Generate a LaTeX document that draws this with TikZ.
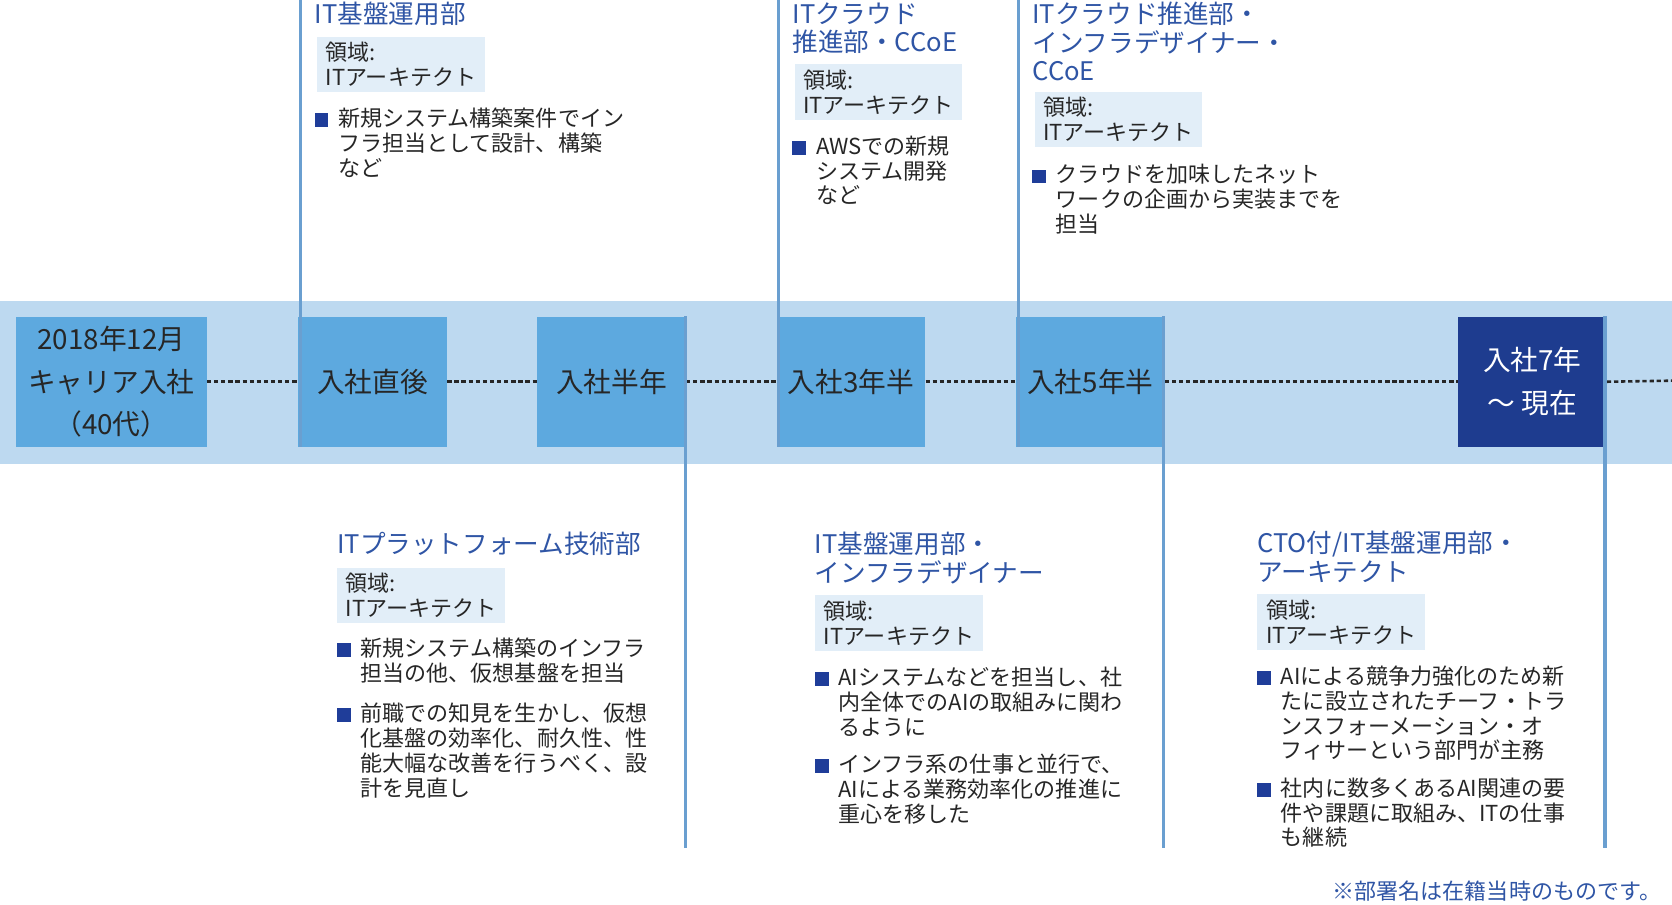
\documentclass[tikz,border=0pt]{standalone}
\usepackage{fontspec}
\setmainfont{Noto Sans CJK JP}
\definecolor{band}{HTML}{BDD9F0}
\definecolor{boxc}{HTML}{5DA9DF}
\definecolor{dark}{HTML}{1E3C8F}
\definecolor{vline}{HTML}{6A9FD0}
\definecolor{ttl}{HTML}{2F55A5}
\definecolor{lab}{HTML}{E2EEF8}
\definecolor{sq}{HTML}{1F3D99}
\begin{document}
\begin{tikzpicture}[x=0.75pt,y=-0.75pt,
 box/.style={fill=boxc,minimum height=91.5pt,minimum width=104.5pt,inner sep=0pt,font=\fontsize{19.5pt}{30pt}\selectfont,text=black!85,align=center},
 dsh/.style={densely dashed,line width=1.8pt,black!85},
 vl/.style={vline,line width=2.5pt},
 ttl/.style={anchor=north west,inner sep=0pt,align=left,text=ttl,font=\fontsize{18pt}{20pt}\selectfont},
 lab/.style={anchor=north west,fill=lab,inner sep=2pt,minimum width=118pt,minimum height=39pt,align=left,text=black!85,font=\fontsize{15.5pt}{17.5pt}\selectfont},
 bul/.style={anchor=north west,inner sep=0pt,align=left,text=black!85,font=\fontsize{15.5pt}{17.5pt}\selectfont},
 sqs/.style={fill=sq}]
\useasboundingbox (0,0) rectangle (1568,848);
\fill[band] (0,282) rectangle (1568,435);
\node[box,minimum width=134pt] (b1) at (104.5,358) {2018年12月\\キャリア入社\\（40代）};
\node[box] (b2) at (349.5,358) {入社直後};
\node[box] (b3) at (573.5,358) {入社半年};
\node[box] (b4) at (798,358) {入社3年半};
\node[box] (b5) at (1022.5,358) {入社5年半};
\node[box,fill=dark,text=white] (b6) at (1437,358) {入社7年\\～ 現在};
\coordinate (e) at (1568,357);
\draw[dsh] (b1.east) -- (b2.west);
\draw[dsh] (b2.east) -- (b3.west);
\draw[dsh] (b3.east) -- (b4.west);
\draw[dsh] (b4.east) -- (b5.west);
\draw[dsh] (b5.east) -- (b6.west);
\draw[dsh] (b6.east) -- (e);
\coordinate (t2) at (282,0); \coordinate (t4) at (730,0); \coordinate (t5) at (955,0);
\coordinate (d3) at (643,795); \coordinate (d5) at (1091,795); \coordinate (d6) at (1505,795);
\draw[vl] (t2) -- (t2|-b2.south);
\draw[vl] (t4) -- (t4|-b4.south);
\draw[vl] (t5) -- (t5|-b5.south);
\draw[vl] (d3|-b3.north) -- (d3);
\draw[vl] (d5|-b5.north) -- (d5);
\draw[vl] (d6|-b6.north) -- (d6);
% group 1
\node[ttl] (g1t) at (295,2) {IT基盤運用部};
\node[lab] (g1l) at (297,34) {領域:\\ITアーキテクト};
\fill[sqs] (295,106) rectangle (308,119);
\node[bul] (g1a) at (317,101) {新規システム構築案件でイン\\フラ担当として設計、構築\\など};
% group 2
\node[ttl] (g2t) at (743,2) {ITクラウド\\推進部・CCoE};
\node[lab] (g2l) at (745,60) {領域:\\ITアーキテクト};
\fill[sqs] (743,132) rectangle (756,145);
\node[bul] (g2a) at (765,127) {AWSでの新規\\システム開発\\など};
% group 3
\node[ttl] (g3t) at (968,2) {ITクラウド推進部・\\インフラデザイナー・\\CCoE};
\node[lab] (g3l) at (970,86) {領域:\\ITアーキテクト};
\fill[sqs] (968,159) rectangle (981,172);
\node[bul] (g3a) at (990,154) {クラウドを加味したネット\\ワークの企画から実装までを\\担当};
% group 4
\node[ttl] (g4t) at (316,499) {ITプラットフォーム技術部};
\node[lab] (g4l) at (316,532) {領域:\\ITアーキテクト};
\fill[sqs] (316,603) rectangle (329,616);
\node[bul] (g4a) at (338,598) {新規システム構築のインフラ\\担当の他、仮想基盤を担当};
\fill[sqs] (316,664) rectangle (329,677);
\node[bul] (g4b) at (338,659) {前職での知見を生かし、仮想\\化基盤の効率化、耐久性、性\\能大幅な改善を行うべく、設\\計を見直し};
% group 5
\node[ttl] (g5t) at (764,499) {IT基盤運用部・\\インフラデザイナー};
\node[lab] (g5l) at (764,558) {領域:\\ITアーキテクト};
\fill[sqs] (764,630) rectangle (777,643);
\node[bul] (g5a) at (786,625) {AIシステムなどを担当し、社\\内全体でのAIの取組みに関わ\\るように};
\fill[sqs] (764,712) rectangle (777,725);
\node[bul] (g5b) at (786,707) {インフラ系の仕事と並行で、\\AIによる業務効率化の推進に\\重心を移した};
% group 6
\node[ttl] (g6t) at (1179,498) {CTO付/IT基盤運用部・\\アーキテクト};
\node[lab] (g6l) at (1179,557) {領域:\\ITアーキテクト};
\fill[sqs] (1179,629) rectangle (1192,642);
\node[bul] (g6a) at (1201,624) {AIによる競争力強化のため新\\たに設立されたチーフ・トラ\\ンスフォーメーション・オ\\フィサーという部門が主務};
\fill[sqs] (1179,734) rectangle (1192,747);
\node[bul] (g6b) at (1201,729) {社内に数多くあるAI関連の要\\件や課題に取組み、ITの仕事\\も継続};
\node[anchor=east,inner sep=0pt,text=ttl,font=\fontsize{15.5pt}{17pt}\selectfont] (fn) at (1558,836) {※部署名は在籍当時のものです。};
\end{tikzpicture}
\end{document}
